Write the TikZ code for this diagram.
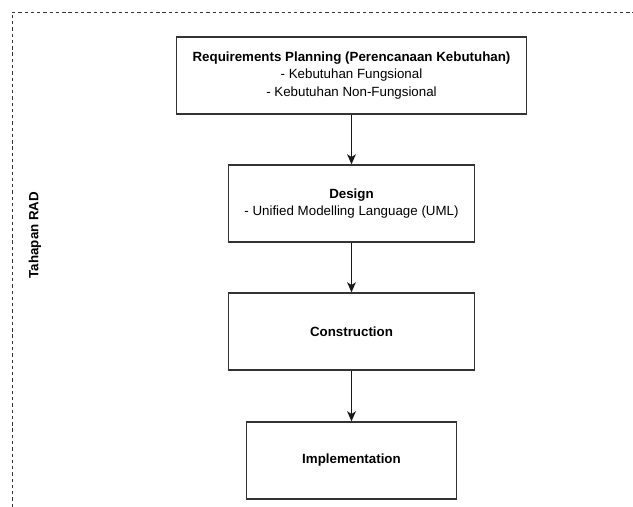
\documentclass[tikz,border=0pt]{standalone}
\usepackage{fontspec}
\setmainfont{Liberation Sans}
\usetikzlibrary{arrows.meta}
\begin{document}
\begin{tikzpicture}[x=0.75pt,y=-0.75pt,
  stepbox/.style={draw=black!80, line width=1pt, align=center, inner sep=0pt,
    font=\fontsize{10}{13.3}\selectfont, minimum height=57.75pt},
  arr/.style={draw=black!90, line width=1pt, -{Stealth[length=7.5pt,width=6.5pt,inset=2pt]}},
  frame/.style={draw=black!80, line width=0.6pt, dash pattern=on 2.5pt off 2.2pt}]
\useasboundingbox (0,0) rectangle (633,507);
\draw[frame] (12,507) -- (12,12) -- (633,12);
\node[font=\fontsize{10}{12}\selectfont\bfseries, rotate=90] (t) at (35,235) {Tahapan RAD};
\node[stepbox, minimum width=262.5pt] (r) at (351.5,75.5)
  {\textbf{Requirements Planning (Perencanaan Kebutuhan)}\\- Kebutuhan Fungsional\\- Kebutuhan Non-Fungsional};
\node[stepbox, minimum width=184.5pt] (d) at (351.5,203.5)
  {\textbf{Design}\\- Unified Modelling Language (UML)};
\node[stepbox, minimum width=184.5pt] (c) at (351.5,331.5) {\textbf{Construction}};
\node[stepbox, minimum width=157.5pt] (i) at (351.5,460.5) {\textbf{Implementation}};
\draw[arr] (r.south) -- (d.north);
\draw[arr] (d.south) -- (c.north);
\draw[arr] (c.south) -- (i.north);
\end{tikzpicture}
\end{document}
